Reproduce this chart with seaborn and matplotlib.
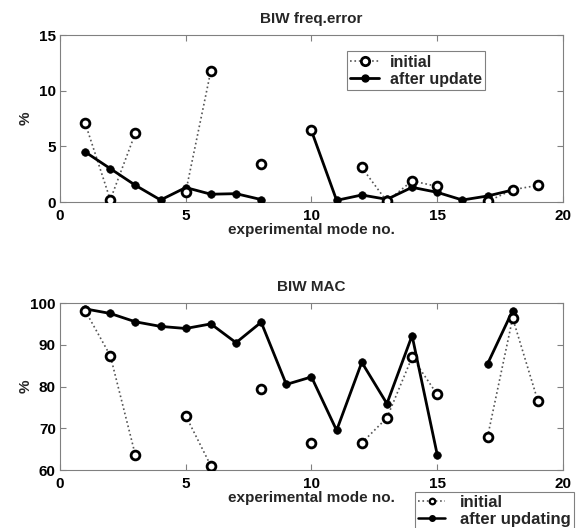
import numpy as np
import pandas as pd
import matplotlib
matplotlib.use("Agg")
import matplotlib.pyplot as plt
from matplotlib.lines import Line2D
import seaborn as sns

nan = np.nan
modes = list(range(1, 20))

freq_initial = [7.1, 0.2, 6.2, nan, 0.9, 11.8, nan, 3.4, nan, 6.5,
                nan, 3.1, 0.05, 1.9, 1.4, nan, 0.05, 1.1, 1.5]
freq_updated = [4.5, 3.0, 1.5, 0.18, 1.3, 0.7, 0.75, 0.22, nan, 6.4,
                0.15, 0.63, 0.24, 1.32, 0.87, 0.18, 0.54, 1.08, nan]

mac_initial = [98.2, 87.4, 63.5, nan, 73.0, 61.0, nan, 79.4, nan, 66.5,
               nan, 66.5, 72.5, 87.0, 78.1, nan, 67.9, 96.4, 76.6]
mac_updated = [98.6, 97.5, 95.5, 94.4, 93.9, 95.0, 90.5, 95.4, 80.5, 82.3,
               69.5, 85.8, 75.9, 92.2, 63.7, nan, 85.4, 98.2, nan]

titles = ["BIW freq.error", "BIW MAC"]
xlabel = "experimental mode no."
ylabel = "%"
legend_top = ["initial", "after update"]
legend_bottom = ["initial", "after updating"]

sns.set_style("white")
plt.rcParams["font.family"] = ["Liberation Sans", "DejaVu Sans"]
plt.rcParams["font.weight"] = "bold"

fig = plt.figure(figsize=(5.79, 5.28), dpi=100)
ax1 = fig.add_axes([0.1036, 0.6174, 0.8687, 0.3163])
ax2 = fig.add_axes([0.1036, 0.1098, 0.8687, 0.3163])


def segments(vals):
    seg = []
    s = 0
    prev_nan = True
    for v in vals:
        if np.isnan(v):
            seg.append(-1)
            prev_nan = True
        else:
            if prev_nan:
                s += 1
            seg.append(s)
            prev_nan = False
    return seg


def draw(ax, init, upd):
    di = pd.DataFrame({"x": modes, "y": init, "seg": segments(init)}).dropna()
    du = pd.DataFrame({"x": modes, "y": upd, "seg": segments(upd)}).dropna()
    sns.lineplot(data=di, x="x", y="y", units="seg", estimator=None, ax=ax,
                 color="#555555", linestyle=":", linewidth=1.2, sort=False)
    sns.lineplot(data=du, x="x", y="y", units="seg", estimator=None, ax=ax,
                 color="black", linestyle="-", linewidth=2.0, sort=False)
    sns.scatterplot(data=du, x="x", y="y", ax=ax, color="black", s=30,
                    edgecolor="black", linewidth=0.5, zorder=4)
    sns.scatterplot(data=di, x="x", y="y", ax=ax, facecolor="white", s=40,
                    edgecolor="black", linewidth=2.0, zorder=5)


draw(ax1, freq_initial, freq_updated)
draw(ax2, mac_initial, mac_updated)

for ax, t in zip([ax1, ax2], titles):
    ax.set_xlim(0, 20)
    ax.set_xticks([0, 5, 10, 15, 20])
    ax.set_title(t, fontsize=11, fontweight="bold", pad=8.5)
    ax.set_xlabel(xlabel, fontsize=11, fontweight="bold", labelpad=0)
    ax.set_ylabel(ylabel, fontsize=11, fontweight="bold")
    ax.yaxis.set_label_coords(-0.055, 0.5)
    for sp in ax.spines.values():
        sp.set_visible(True)
        sp.set_color("#808080")
        sp.set_linewidth(0.8)
    ax.tick_params(direction="in", length=4, width=0.8, color="#808080",
                   top=True, right=True, bottom=True, left=True,
                   labelsize=11, labelcolor="black")
    ax.tick_params(axis="x", pad=5)
    ax.tick_params(axis="y", pad=3)
    for lab in ax.get_xticklabels() + ax.get_yticklabels():
        lab.set_fontweight("bold")

ax1.set_ylim(0, 15)
ax1.set_yticks([0, 5, 10, 15])
ax2.set_ylim(60, 100)
ax2.set_yticks([60, 70, 80, 90, 100])

h_init = Line2D([], [], color="#555555", linestyle=":", linewidth=1.2,
                marker="o", markerfacecolor="white", markeredgecolor="black",
                markeredgewidth=2.0, markersize=6)
h_upd = Line2D([], [], color="black", linestyle="-", linewidth=2.0,
               marker="o", markerfacecolor="black", markeredgecolor="black",
               markersize=5)

leg1 = ax1.legend([h_init, h_upd], legend_top, loc="upper left",
                  bbox_to_anchor=(0.5706, 0.904), fancybox=False,
                  edgecolor="#808080", framealpha=1, fontsize=11.5,
                  handlelength=1.8, borderpad=0.22, labelspacing=0.15,
                  handletextpad=0.65, borderaxespad=0)
leg1.get_frame().set_linewidth(0.8)
for t in leg1.get_texts():
    t.set_fontweight("bold")

h_init2 = Line2D([], [], color="#555555", linestyle=":", linewidth=1.2,
                 marker="o", markerfacecolor="white", markeredgecolor="black",
                 markeredgewidth=1.6, markersize=4)
h_upd2 = Line2D([], [], color="black", linestyle="-", linewidth=1.8,
                marker="o", markerfacecolor="black", markeredgecolor="black",
                markersize=4)
leg2 = fig.legend([h_init2, h_upd2], legend_bottom, loc="lower left",
                  bbox_to_anchor=(0.7168, -0.004), fancybox=False,
                  edgecolor="#808080", framealpha=1, fontsize=12,
                  handlelength=1.6, borderpad=0.2, labelspacing=0.1,
                  handletextpad=0.9, borderaxespad=0)
leg2.get_frame().set_linewidth(0.8)
for t in leg2.get_texts():
    t.set_fontweight("bold")

fig.savefig("out.png", dpi=100, facecolor="white")
